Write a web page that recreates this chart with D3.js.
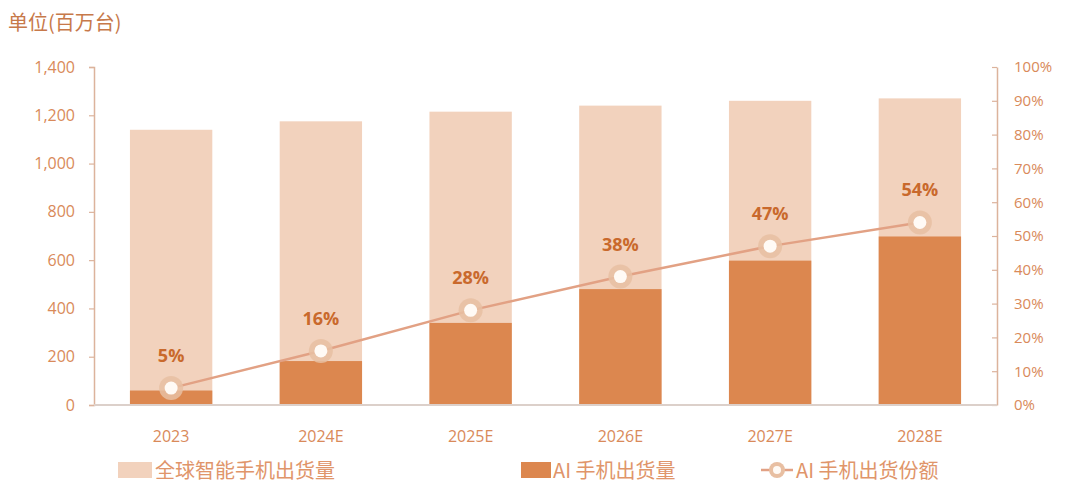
<!DOCTYPE html>
<html>
<head>
<meta charset="utf-8">
<script src="https://cdn.jsdelivr.net/npm/d3@7/dist/d3.min.js"></script>
<style>
  html, body { margin: 0; padding: 0; background: #fff; }
  svg { display: block; font-family: "Microsoft YaHei", "Noto Sans CJK SC", "Open Sans", sans-serif; }
</style>
</head>
<body>
<svg id="chart" width="1069" height="493"></svg>
<script>
// Years and shipment figures (millions of units)
const years = ["2023", "2024E", "2025E", "2026E", "2027E", "2028E"];
const totalShipments = [1140, 1175, 1215, 1240, 1260, 1270];
const aiShipments = [60, 182, 340, 480, 598, 698];
const aiShare = [0.05, 0.16, 0.28, 0.38, 0.47, 0.54];
const shareLabels = ["5%", "16%", "28%", "38%", "47%", "54%"];
const leftTicks = [0, 200, 400, 600, 800, 1000, 1200, 1400];
const rightTicks = [0, 0.1, 0.2, 0.3, 0.4, 0.5, 0.6, 0.7, 0.8, 0.9, 1.0];
const legendNames = ["全球智能手机出货量", "AI 手机出货量", "AI 手机出货份额"];

const C = {
  total: "#f2d2bd",
  ai: "#dc874f",
  line: "#e2a184",
  ring: "#e8bfa2",
  label: "#c9692c",
  tick: "#d98a5a",
  axis: "#dcb39c",
  base: "#dcd0ca"
};

const svg = d3.select("#chart");
const m = { left: 94, right: 997, top: 67, bottom: 405 };

const x = d3.scaleBand().domain(years).range([m.left, m.right]).paddingInner(0.45).paddingOuter(0.24);
const yL = d3.scaleLinear().domain([0, 1400]).range([m.bottom, m.top]);
const yR = d3.scaleLinear().domain([0, 1]).range([m.bottom, m.top]);

// Unit label
svg.append("text").attr("x", 8).attr("y", 30)
  .attr("font-size", 20).attr("fill", "#c7794a").text("单位(百万台)");

// Left axis
const gL = svg.append("g").attr("transform", `translate(${m.left},0)`)
  .call(d3.axisLeft(yL).tickValues(leftTicks).tickSize(5).tickPadding(14).tickFormat(d3.format(",")));
gL.select(".domain").attr("stroke", C.axis).attr("stroke-width", 1.5);
gL.selectAll(".tick line").attr("stroke", C.axis).attr("stroke-width", 1.2);
gL.selectAll(".tick text").attr("fill", C.tick).attr("font-size", 16)
  .attr("font-family", "Open Sans, sans-serif");

// Right axis (ticks pointing inward)
const gR = svg.append("g").attr("transform", `translate(${m.right},0)`)
  .call(d3.axisRight(yR).tickValues(rightTicks).tickSize(0).tickPadding(17).tickFormat(d3.format(".0%")));
gR.select(".domain").attr("stroke", C.axis).attr("stroke-width", 1.5);
gR.selectAll(".tick").append("line").attr("x1", -5).attr("x2", 0)
  .attr("stroke", C.axis).attr("stroke-width", 1.2);
gR.selectAll(".tick text").attr("fill", C.tick).attr("font-size", 15)
  .attr("font-family", "Open Sans, sans-serif");

// Total shipment bars
svg.append("g").selectAll("rect").data(years).join("rect")
  .attr("x", d => x(d)).attr("width", x.bandwidth())
  .attr("y", (d, i) => yL(totalShipments[i]))
  .attr("height", (d, i) => yL(0) - yL(totalShipments[i]))
  .attr("fill", C.total);

// AI phone shipment bars
svg.append("g").selectAll("rect").data(years).join("rect")
  .attr("x", d => x(d)).attr("width", x.bandwidth())
  .attr("y", (d, i) => yL(aiShipments[i]))
  .attr("height", (d, i) => yL(0) - yL(aiShipments[i]))
  .attr("fill", C.ai);

// Baseline
svg.append("line").attr("x1", m.left).attr("x2", m.right)
  .attr("y1", m.bottom).attr("y2", m.bottom)
  .attr("stroke", C.base).attr("stroke-width", 2);

// X labels
const gX = svg.append("g").attr("transform", `translate(0,${m.bottom})`)
  .call(d3.axisBottom(x).tickSize(0).tickPadding(26));
gX.select(".domain").remove();
gX.selectAll(".tick text").attr("fill", C.tick).attr("font-size", 16)
  .attr("font-family", "Open Sans, sans-serif");

// AI share line
const cx = d => x(d) + x.bandwidth() / 2;
const line = d3.line().x((d, i) => cx(years[i])).y(d => yR(d));
svg.append("path").datum(aiShare).attr("d", line)
  .attr("fill", "none").attr("stroke", C.line).attr("stroke-width", 2.5);

const pts = svg.append("g").selectAll("g").data(aiShare).join("g")
  .attr("transform", (d, i) => `translate(${cx(years[i])},${yR(d)})`);
pts.append("circle").attr("r", 12).attr("fill", C.ring).attr("opacity", 0.85);
pts.append("circle").attr("r", 6.5).attr("fill", "#fffaf5");

// Share labels
svg.append("g").selectAll("text").data(aiShare).join("text")
  .attr("x", (d, i) => cx(years[i])).attr("y", d => yR(d) - 26)
  .attr("text-anchor", "middle").attr("font-size", 18).attr("font-weight", "bold")
  .attr("font-family", "Open Sans, sans-serif")
  .attr("fill", C.label).text((d, i) => shareLabels[i]);

// Legend
const lg = svg.append("g").attr("transform", "translate(0,470)");
lg.append("rect").attr("x", 118).attr("y", -8).attr("width", 34).attr("height", 16).attr("fill", C.total);
lg.append("text").attr("x", 155).attr("y", 7.5).attr("font-size", 20).attr("fill", "#e0956a").text(legendNames[0]);
lg.append("rect").attr("x", 521).attr("y", -8).attr("width", 30).attr("height", 16).attr("fill", C.ai);
lg.append("text").attr("x", 553).attr("y", 7.5).attr("font-size", 20).attr("fill", "#e0956a").text(legendNames[1]);
lg.append("line").attr("x1", 761).attr("x2", 793).attr("y1", 0).attr("y2", 0).attr("stroke", C.line).attr("stroke-width", 2.5);
lg.append("circle").attr("cx", 777).attr("cy", 0).attr("r", 8).attr("fill", C.ring);
lg.append("circle").attr("cx", 777).attr("cy", 0).attr("r", 4).attr("fill", "#fffaf5");
lg.append("text").attr("x", 796).attr("y", 7.5).attr("font-size", 20).attr("fill", "#e0956a").text(legendNames[2]);
</script>
</body>
</html>
